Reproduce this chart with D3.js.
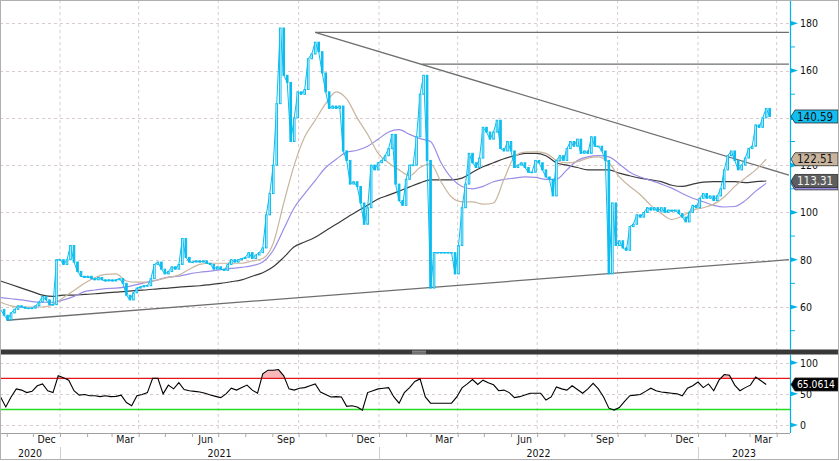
<!DOCTYPE html>
<html><head><meta charset="utf-8">
<script src="https://cdn.jsdelivr.net/npm/d3@7"></script>
<style>
html,body{margin:0;padding:0;background:#fff;overflow:hidden}
text{font-family:"DejaVu Sans Condensed","DejaVu Sans",sans-serif;font-stretch:condensed}
</style>
</head><body>
<svg id="c" width="839" height="461"></svg>
<script>
// ---------------- DATA ----------------
const priceStart = "2020-10-25", priceStepDays = 4;
const closes = [59,56.5,54.5,57.5,59,60.5,60,59.5,59.5,59.5,
60.5,62,64.5,63,61,61,80,80,78,80,
86,79,75,73,72.5,73,72,71.5,72.5,71.5,
71,71.5,71,71.5,72,70,65,63,66,68,
68.5,69,69,72,78,79,76,74,75,77,
76,78,89,81,79,79,79.5,79,79.5,78.5,
78,76,77,76,75.5,78,80,79,80,80.5,
81,83,80.5,82,83,85,99,108,120,146,
178,158,155,130,140,151,150,152,165,167,
172,168,159,151,144,145,144,145,126,122,
112,113,111,104,95,102,120,118,121,122,
124,127,133,112,105,103,114,120,120,132,
150,158,122,68,83,83,83,83,83,83,
74,86,102,112,125,121,119,123,136,134,
131,134,139,127,126,130,126,119,120,121,
119,117,117,122,121,118,115,114,107,122,
124,122,127,130,128,131,125,126,125,132,
128,128,126,122,74,104,86,88,85,84,
94,95,99,98,100,102,101,102,100.5,102,
100,101,100.5,101,99.5,98,96,100,103,102,
106,108,106,107,105,107,110,118,124,126,
122,118,120,123,127,128,137,136,140,144,
140.59];

const maStart = "2020-10-25", maStepDays = 12;
const maShort = [62,60.5,60,60,60,61,64,67,70,72.5,
73.8,74,71,70.5,70.5,71.5,72.5,73.5,76,78,
78.5,78.5,78.5,78.5,79.5,80.5,87,104,120,132,
139,146,151,148,140,133,125,121,118,115.5,
119,120.5,113,106.5,104.5,104.5,103.5,104,114,123.5,
125.5,125.6,125,122,121,121.5,123,123.5,121,115,
111,107.5,103,99.5,97,98.5,101,102,103.5,106.5,
111,114.5,118,122.51];
const maMid = [64,63.5,63,62.3,62,62,63,64.5,66.5,67.2,
67.8,68,68.5,69.5,70.5,71.5,72.7,73,74,74.7,
75.2,75.8,76.3,76.8,77.5,79,84,93,102,108,
113.5,119,122.5,125.5,126.3,128,131,134,135,133,
131.2,130,121,114.5,111,110,111,113,114,114.5,
115,114.8,114,114,118,122,123.5,124,123.5,120.5,
117,115,113.5,112,110.3,108,106,104.5,103,102.3,
102.5,105,109,112.3];
const maLong = [71,69.5,68,66.5,65,64.5,65,65,65.3,65.6,
66,66.3,66.6,67,67.3,67.7,68,68.4,68.7,69,
69.5,70,70.7,71.5,73,74.5,77,81,85.5,87.5,
89.5,92.3,95,97.8,100.5,103,105.7,107.3,109,110.8,
112.5,113.8,113.8,113.8,114.5,117,119.3,121,122.7,124,
125,125,124,121,120,119,118,118,118,116.6,
115.5,114.5,113.8,113,111.5,111,112,112.8,113,113,
113,112.6,113,113.31];

const rsiStart = "2020-10-25", rsiStepDays = 6;
const rsi = [45,29,45,58,56,52,54,63,66,55,
52,79,76,72,55,48,49,47,47,45.5,
47,45.5,46,48,36,31,47,49,52,75,
75,50,64,58,68,57,55,54,53,51,
48,46,44,50,59,56,60,64,56,51,
82,88,88,89,79,58,56,59,60,63,
66,53,49,45,45.5,45,30,31,29,24,
52,55,58,59,60,45,35,52,60,70,
74,45,35,35,35,35,35,45,59.5,66,
73,65,72,68,64.5,55,56,52,44,45.5,
48,51,51,51,40,45,61,58,56,63,
57,51,58,67,58,45,27,24,28,38,
47,48,49,54,59,55,53,52,51,50,
47,59,63,69,60,66,55,72,81,80,
64,55,60,64,77,71,65.0614];

const trendlines = [
  {from:["2020-11-01",54.4], to:["2023-04-15",80]},
  {from:["2021-10-20",176.2], to:["2023-04-15",115.8]},
  {from:["2021-10-20",176.2], to:["2023-04-15",176.2]},
  {from:["2022-02-19",162.7], to:["2023-04-15",162.7]}
];

const priceTicks = [60,80,100,120,140,160,180];
const priceMinorTicks = [50,70,90,110,130,150,170];
const rsiTicks = [0,50,100];
const rsiBands = {upper:75, lower:25};
const monthLabelNames = ["Dec","Mar","Jun","Sep"];

// ---------------- SETUP ----------------
const parse = d3.timeParse("%Y-%m-%d");
const W = 839, H = 461, AX = 790;
const svg = d3.select("#c");
svg.append("rect").attr("width",W).attr("height",H).attr("fill","#fff");

const x = d3.scaleTime().domain([parse("2021-01-01"), parse("2023-01-01")]).range([60, 698]);
const yP = d3.scaleLinear().domain([60,180]).range([307,23.3]);
const yR = d3.scaleLinear().domain([0,100]).range([425,362.7]);
const domStart = x.invert(0), domEnd = x.invert(AX);

const seq = (start, step, arr) => arr.map((v,i)=>({d:d3.timeDay.offset(parse(start), i*step), v}));
const priceData = seq(priceStart, priceStepDays, closes);
const shortData = seq(maStart, maStepDays, maShort);
const midData = seq(maStart, maStepDays, maMid);
const longData = seq(maStart, maStepDays, maLong);
const rsiData = seq(rsiStart, rsiStepDays, rsi);

const defs = svg.append("defs");
defs.append("clipPath").attr("id","cm").append("rect").attr("x",0).attr("y",0).attr("width",AX).attr("height",349);
defs.append("clipPath").attr("id","cr").append("rect").attr("x",0).attr("y",354).attr("width",AX).attr("height",79);
defs.append("clipPath").attr("id","cob").append("rect").attr("x",0).attr("y",354).attr("width",AX).attr("height",yR(rsiBands.upper)-354);

const gridCol = "#d9cccc";
const quarters = d3.timeMonths(d3.timeMonth.floor(domStart), domEnd, 1).filter(d=>d.getMonth()%3===0);
svg.append("g").selectAll("line").data(quarters).join("line")
  .attr("x1",d=>x(d)).attr("x2",d=>x(d)).attr("y1",0).attr("y2",433)
  .attr("stroke",gridCol).attr("stroke-dasharray","3,3").attr("stroke-width",1);
svg.append("g").selectAll("line").data(priceTicks).join("line")
  .attr("x1",0).attr("x2",AX).attr("y1",d=>Math.round(yP(d))+0.5).attr("y2",d=>Math.round(yP(d))+0.5)
  .attr("stroke",gridCol).attr("stroke-dasharray","3,3");
svg.append("g").selectAll("line").data(rsiTicks).join("line")
  .attr("x1",0).attr("x2",AX).attr("y1",d=>Math.round(yR(d))+0.5).attr("y2",d=>Math.round(yR(d))+0.5)
  .attr("stroke",gridCol).attr("stroke-dasharray","3,3");

// ---------------- MAIN PANEL ----------------
const gm = svg.append("g").attr("clip-path","url(#cm)");
const ln = d3.line().x(d=>x(d.d)).y(d=>yP(d.v)).curve(d3.curveMonotoneX);

gm.selectAll("line.tl").data(trendlines).join("line").attr("class","tl")
  .attr("x1",d=>x(parse(d.from[0]))).attr("y1",d=>yP(d.from[1]))
  .attr("x2",d=>x(parse(d.to[0]))).attr("y2",d=>yP(d.to[1]))
  .attr("stroke","#6e6e6e").attr("stroke-width",1.3);

gm.append("path").datum(longData).attr("d",ln).attr("fill","none").attr("stroke","#3a3a3a").attr("stroke-width",1.2);
gm.append("path").datum(midData).attr("d",ln).attr("fill","none").attr("stroke","#9a8de6").attr("stroke-width",1.2);
gm.append("path").datum(shortData).attr("d",ln).attr("fill","none").attr("stroke","#c9b49e").attr("stroke-width",1.2);

const cyan = "#0bbcef";
gm.append("path").datum(priceData)
  .attr("d",d3.line().x(d=>x(d.d)).y(d=>yP(d.v)))
  .attr("fill","none").attr("stroke",cyan).attr("stroke-width",1);
const candles = priceData.slice(1).map((d,i)=>({d:d.d, o:priceData[i].v, c:d.v}));
gm.selectAll("rect.cd").data(candles).join("rect").attr("class","cd")
  .attr("x",d=>x(d.d)-0.8).attr("width",1.6)
  .attr("y",d=>yP(Math.max(d.o,d.c))).attr("height",d=>Math.max(0.5,Math.abs(yP(d.o)-yP(d.c))))
  .attr("fill",d=>d.c>=d.o?"#fff":cyan).attr("stroke",cyan).attr("stroke-width",1);

// ---------------- RSI PANEL ----------------
const gr = svg.append("g").attr("clip-path","url(#cr)");
gr.append("path").datum(rsiData)
  .attr("clip-path","url(#cob)")
  .attr("d",d3.area().x(d=>x(d.d)).y0(yR(rsiBands.upper)).y1(d=>yR(d.v)))
  .attr("fill","#f7b9b9");
gr.append("line").attr("x1",0).attr("x2",AX).attr("y1",yR(rsiBands.upper)).attr("y2",yR(rsiBands.upper))
  .attr("stroke","#e8141a").attr("stroke-width",1.3);
gr.append("line").attr("x1",0).attr("x2",AX).attr("y1",yR(rsiBands.lower)).attr("y2",yR(rsiBands.lower))
  .attr("stroke","#22dd22").attr("stroke-width",1.6);
gr.append("path").datum(rsiData)
  .attr("d",d3.line().x(d=>x(d.d)).y(d=>yR(d.v)))
  .attr("fill","none").attr("stroke","#000").attr("stroke-width",1.1);

// ---------------- SEPARATOR ----------------
svg.append("rect").attr("x",0).attr("y",349.5).attr("width",W).attr("height",5).attr("fill","#383838");
svg.append("line").attr("x1",412).attr("x2",426).attr("y1",351.2).attr("y2",351.2).attr("stroke","#a8a8a8");
svg.append("line").attr("x1",412).attr("x2",426).attr("y1",353).attr("y2",353).attr("stroke","#a8a8a8");

// ---------------- RIGHT AXES ----------------
const axBlue = "#00b2e8";
svg.append("line").attr("x1",AX+0.5).attr("x2",AX+0.5).attr("y1",0).attr("y2",349.5).attr("stroke",axBlue).attr("stroke-width",1.2);
svg.append("line").attr("x1",AX+0.5).attr("x2",AX+0.5).attr("y1",354.5).attr("y2",433).attr("stroke",axBlue).attr("stroke-width",1.2);

const lastPrice = closes[closes.length-1];
const tri = v => `M${AX},${v-2.6}L${AX+8},${v}L${AX},${v+2.6}Z`;
// tick labels that sit fully under a last-value box are not shown (as in the reference)
const visiblePriceTicks = priceTicks.filter(t=>Math.abs(yP(t)-yP(lastPrice))>4);
const gPA = svg.append("g").attr("transform",`translate(${AX+10},0)`)
  .call(d3.axisRight(yP).tickValues(visiblePriceTicks).tickSize(0).tickPadding(0).tickFormat(d3.format("d")));
gPA.select(".domain").remove();
gPA.selectAll("text").attr("font-size",10.5).attr("fill","#111").attr("font-family",null);
svg.append("g").selectAll("path").data(priceTicks).join("path").attr("d",d=>tri(yP(d))).attr("fill",axBlue);
svg.append("g").selectAll("line").data(priceMinorTicks).join("line")
  .attr("x1",AX).attr("x2",AX+5).attr("y1",d=>yP(d)).attr("y2",d=>yP(d)).attr("stroke",axBlue);

const gRA = svg.append("g").attr("transform",`translate(${AX+10},0)`)
  .call(d3.axisRight(yR).tickValues(rsiTicks).tickSize(0).tickPadding(0).tickFormat(d3.format("d")));
gRA.select(".domain").remove();
gRA.selectAll("text").attr("font-size",10.5).attr("fill","#111").attr("font-family",null);
svg.append("g").selectAll("path").data(rsiTicks).join("path").attr("d",d=>tri(yR(d))).attr("fill",axBlue);

// last-value labels
const lastLabels = [
  {v:maMid[maMid.length-1], y:yP, fill:"#9a8de6", text:null, fmt:".2f", fs:11.5},
  {v:maLong[maLong.length-1], y:yP, fill:"#5e5e5e", text:"#f2f2f2", fmt:".2f", fs:11.5},
  {v:maShort[maShort.length-1], y:yP, fill:"#c9b49e", text:"#111", fmt:".2f", fs:11.5},
  {v:lastPrice, y:yP, fill:"#12bdf0", text:"#111", fmt:".2f", fs:11.5},
  {v:rsi[rsi.length-1], y:yR, fill:"#000", text:"#fff", fmt:".4f", fs:10.2}
];
const lg = svg.append("g");
lastLabels.forEach(L=>{
  const cy = L.y(L.v), h = 13;
  lg.append("path").attr("d",`M${AX+1},${cy}L${AX+5},${cy-h/2}L${W-1},${cy-h/2}L${W-1},${cy+h/2}L${AX+5},${cy+h/2}Z`)
    .attr("fill",L.fill).attr("stroke","#2a2a2a").attr("stroke-width",0.8);
  if (L.text) lg.append("text").attr("x",AX+7).attr("y",cy).attr("dy","0.36em").attr("font-size",L.fs)
    .attr("fill",L.text).text(d3.format(L.fmt)(L.v));
});

// ---------------- BOTTOM AXIS ----------------
svg.append("line").attr("x1",0).attr("x2",AX).attr("y1",433.5).attr("y2",433.5).attr("stroke","#a0a0a0");
const months = d3.timeMonths(d3.timeMonth.ceil(domStart), domEnd);
const gMT = svg.append("g").attr("transform","translate(0,433)")
  .call(d3.axisBottom(x).tickValues(months).tickSize(4).tickFormat(""));
gMT.select(".domain").remove();
gMT.selectAll("line").attr("stroke","#a8a8a8");

const monthLabelDates = months.filter(d=>monthLabelNames.includes(d3.timeFormat("%b")(d))).map(d=>d3.timeDay.offset(d,15));
const gML = svg.append("g").attr("transform","translate(0,436)")
  .call(d3.axisBottom(x).tickValues(monthLabelDates).tickSize(0).tickPadding(0).tickFormat(d3.timeFormat("%b")));
gML.select(".domain").remove();
gML.selectAll("text").attr("font-size",10.5).attr("fill","#111").attr("font-family",null);

const years = d3.timeYears(d3.timeYear.floor(domStart), domEnd);
const yearStarts = years.slice(1);
svg.append("g").selectAll("line").data(yearStarts).join("line")
  .attr("x1",d=>Math.round(x(d))+0.5).attr("x2",d=>Math.round(x(d))+0.5).attr("y1",447).attr("y2",459)
  .attr("stroke","#cfcfcf");
svg.append("g").selectAll("text").data(years).join("text")
  .attr("x",d=>(Math.max(0,x(d))+Math.min(AX,x(d3.timeYear.offset(d,1))))/2)
  .attr("y",457).attr("text-anchor","middle").attr("font-size",10.5).attr("fill","#111")
  .text(d=>d3.timeFormat("%Y")(d));

svg.append("rect").attr("x",0.5).attr("y",0.5).attr("width",W-1).attr("height",H-2)
  .attr("fill","none").attr("stroke","#b0b0b0");
</script>
</body></html>
